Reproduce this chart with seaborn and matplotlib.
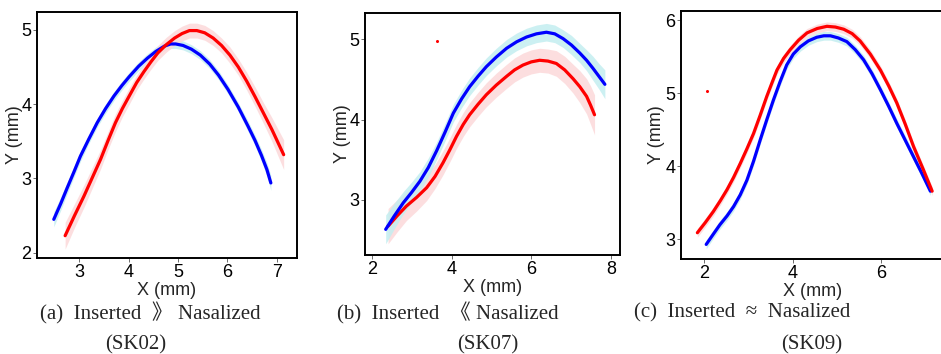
import matplotlib as mpl
import matplotlib.pyplot as plt
import pandas as pd
import seaborn as sns

# ---- data ----
# (a) SK02
a_blue_x = [2.48, 2.62, 2.75, 2.89, 3.02, 3.19, 3.36, 3.53, 3.70, 3.86, 4.01, 4.20, 4.38, 4.55, 4.72,
            4.85, 4.95, 5.10, 5.27, 5.45, 5.64, 5.82, 6.01, 6.22, 6.42, 6.56, 6.69, 6.80, 6.88]
a_blue_y = [2.45, 2.66, 2.87, 3.09, 3.30, 3.53, 3.75, 3.94, 4.11, 4.25, 4.37, 4.51, 4.62, 4.71, 4.78,
            4.81, 4.81, 4.79, 4.74, 4.66, 4.54, 4.39, 4.20, 3.96, 3.70, 3.51, 3.31, 3.12, 2.94]
a_blue_w = [0.10, 0.09, 0.08, 0.07, 0.07, 0.06, 0.06, 0.06, 0.06, 0.06, 0.06, 0.06, 0.06, 0.06, 0.06,
            0.06, 0.06, 0.06, 0.06, 0.06, 0.06, 0.06, 0.06, 0.06, 0.07, 0.07, 0.08, 0.09, 0.10]
a_red_x = [2.71, 2.90, 3.09, 3.26, 3.43, 3.58, 3.73, 3.87, 4.01, 4.16, 4.31, 4.45, 4.59, 4.76, 4.93,
           5.08, 5.23, 5.38, 5.54, 5.71, 5.88, 6.05, 6.22, 6.39, 6.56, 6.73, 6.90, 7.02, 7.14]
a_red_y = [2.23, 2.50, 2.76, 3.01, 3.26, 3.51, 3.75, 3.94, 4.11, 4.29, 4.44, 4.57, 4.69, 4.80, 4.89,
           4.95, 4.99, 4.99, 4.96, 4.89, 4.79, 4.66, 4.50, 4.31, 4.10, 3.88, 3.66, 3.49, 3.32]
a_red_w = [0.18, 0.16, 0.15, 0.14, 0.13, 0.12, 0.12, 0.11, 0.11, 0.10, 0.10, 0.10, 0.10, 0.10, 0.10,
           0.10, 0.10, 0.10, 0.10, 0.10, 0.10, 0.11, 0.11, 0.12, 0.13, 0.14, 0.16, 0.18, 0.20]

# (b) SK07
b_blue_x = [2.34, 2.56, 2.78, 2.99, 3.20, 3.41, 3.62, 3.83, 4.04, 4.25, 4.45, 4.66, 4.87, 5.12,
            5.38, 5.63, 5.88, 6.13, 6.38, 6.59, 6.80, 7.01, 7.22, 7.39, 7.55, 7.70, 7.85]
b_blue_y = [2.63, 2.80, 2.96, 3.09, 3.23, 3.40, 3.61, 3.84, 4.08, 4.26, 4.41, 4.54, 4.66, 4.78,
            4.89, 4.97, 5.03, 5.07, 5.09, 5.07, 5.01, 4.93, 4.83, 4.74, 4.64, 4.54, 4.44]
b_blue_w = [0.18, 0.16, 0.14, 0.13, 0.12, 0.12, 0.11, 0.11, 0.11, 0.11, 0.11, 0.11, 0.11, 0.11,
            0.11, 0.11, 0.11, 0.11, 0.11, 0.11, 0.11, 0.12, 0.12, 0.13, 0.15, 0.16, 0.18]
b_red_x = [2.40, 2.63, 2.86, 3.12, 3.37, 3.58, 3.78, 3.95, 4.12, 4.29, 4.45, 4.66, 4.87, 5.12,
           5.38, 5.58, 5.79, 6.00, 6.21, 6.42, 6.63, 6.84, 7.05, 7.22, 7.39, 7.49, 7.59]
b_red_y = [2.67, 2.80, 2.92, 3.03, 3.15, 3.29, 3.46, 3.62, 3.79, 3.94, 4.06, 4.19, 4.31, 4.43,
           4.54, 4.62, 4.68, 4.72, 4.74, 4.73, 4.70, 4.62, 4.51, 4.41, 4.29, 4.18, 4.06]
b_red_w = [0.22, 0.20, 0.18, 0.17, 0.16, 0.15, 0.15, 0.15, 0.15, 0.15, 0.15, 0.15, 0.15, 0.15,
           0.15, 0.15, 0.15, 0.15, 0.15, 0.15, 0.16, 0.17, 0.18, 0.20, 0.22, 0.24, 0.25]
b_dot = (3.63, 4.98)

# (c) SK09
c_blue_x = [2.04, 2.20, 2.35, 2.51, 2.66, 2.81, 2.96, 3.11, 3.26, 3.41, 3.56, 3.71, 3.86, 4.01, 4.17, 4.35,
            4.54, 4.70, 4.85, 5.03, 5.22, 5.41, 5.60, 5.79, 5.98, 6.17, 6.35, 6.54, 6.73, 6.92, 7.11]
c_blue_y = [2.93, 3.07, 3.20, 3.32, 3.45, 3.61, 3.81, 4.07, 4.36, 4.64, 4.91, 5.16, 5.39, 5.54, 5.64, 5.72,
            5.77, 5.79, 5.79, 5.76, 5.71, 5.60, 5.46, 5.27, 5.05, 4.82, 4.59, 4.36, 4.13, 3.90, 3.66]
c_red_x = [1.84, 2.02, 2.20, 2.36, 2.51, 2.66, 2.81, 2.96, 3.11, 3.26, 3.41, 3.53, 3.64, 3.79, 3.94, 4.13,
           4.32, 4.55, 4.77, 4.96, 5.15, 5.34, 5.52, 5.75, 5.98, 6.17, 6.35, 6.54, 6.73, 6.94, 7.15]
c_red_y = [3.09, 3.23, 3.38, 3.53, 3.68, 3.85, 4.04, 4.24, 4.45, 4.70, 4.96, 5.15, 5.32, 5.48, 5.60, 5.73,
           5.83, 5.89, 5.92, 5.91, 5.88, 5.82, 5.72, 5.54, 5.32, 5.10, 4.87, 4.58, 4.27, 3.97, 3.66]
c_band = 0.06
c_dot = (2.05, 5.04)

captions = ["(a)  Inserted  \u300b Nasalized", "(b)  Inserted  \u300a Nasalized", "(c)  Inserted  \u2248  Nasalized"]
subjects = ["(SK02)", "(SK07)", "(SK09)"]

RED, BLUE = "#ff0000", "#0000ff"
RED_BAND, BLUE_BAND = "#fcd9da", "#c4eef0"

sns.set_theme(style="white")
mpl.rcParams.update({
    "font.family": ["Liberation Sans Narrow", "Liberation Sans", "DejaVu Sans"],
    "axes.linewidth": 1.4,
    "axes.edgecolor": "black",
    "xtick.bottom": True,
    "ytick.left": True,
    "xtick.major.size": 3,
    "ytick.major.size": 3,
    "xtick.major.width": 0.6,
    "ytick.major.width": 0.6,
    "xtick.color": "#555555",
    "ytick.color": "#555555",
    "xtick.labelcolor": "black",
    "ytick.labelcolor": "black",
})

fig = plt.figure(figsize=(9.41, 3.54), dpi=100)
W, H = 941, 354


def add_axes(left, top, right, bottom):
    return fig.add_axes([left / W, 1 - bottom / H, (right - left) / W, (bottom - top) / H])


def draw(ax, x, y, w, line, band):
    lo = [yy - ww for yy, ww in zip(y, w)]
    hi = [yy + ww for yy, ww in zip(y, w)]
    ax.fill_between(x, lo, hi, color=band, alpha=0.85, lw=0)
    df = pd.DataFrame({"x": x, "y": y})
    sns.lineplot(data=df, x="x", y="y", sort=False, color=line, lw=2.3, ax=ax)


axes = [add_axes(37, 12, 297, 258), add_axes(365, 13, 620, 255), add_axes(681, 11, 945, 259)]

# (a)
ax = axes[0]
draw(ax, a_blue_x, a_blue_y, a_blue_w, BLUE, BLUE_BAND)
draw(ax, a_red_x, a_red_y, a_red_w, RED, RED_BAND)
ax.set_xlim(2.14, 7.41)
ax.set_ylim(1.93, 5.24)
ax.set_xticks([3, 4, 5, 6, 7])
ax.set_yticks([2, 3, 4, 5])

# (b)
ax = axes[1]
draw(ax, b_red_x, b_red_y, b_red_w, RED, RED_BAND)
draw(ax, b_blue_x, b_blue_y, b_blue_w, BLUE, BLUE_BAND)
ax.plot(*b_dot, marker="o", ms=1.2, color=RED)
ax.set_xlim(1.82, 8.23)
ax.set_ylim(2.31, 5.33)
ax.set_xticks([2, 4, 6, 8])
ax.set_yticks([3, 4, 5])

# (c)
ax = axes[2]
draw(ax, c_blue_x, c_blue_y, [c_band] * len(c_blue_x), BLUE, BLUE_BAND)
draw(ax, c_red_x, c_red_y, [c_band] * len(c_red_x), RED, RED_BAND)
ax.plot(*c_dot, marker="o", ms=1.2, color=RED)
ax.set_xlim(1.47, 7.44)
ax.set_ylim(2.73, 6.13)
ax.set_xticks([2, 4, 6])
ax.set_yticks([3, 4, 5, 6])

for ax, lp in zip(axes, [-1, -1, 0]):
    for s in ax.spines.values():
        s.set_visible(True)
        s.set_color("black")
    ax.tick_params(labelsize=13, pad=1)
    ax.set_xlabel("X (mm)", fontsize=13, labelpad=1)
    ax.set_ylabel("Y (mm)", fontsize=13, labelpad=lp)

cap_x = [40, 337, 634]
sub_x = [136, 488, 812]
serif = ["Liberation Serif", "Noto Sans CJK JP", "DejaVu Serif"]
for cx, sx, cap, sub in zip(cap_x, sub_x, captions, subjects):
    fig.text(cx / W, 1 - 313 / H, cap, ha="left", va="center", fontsize=15, family=serif)
    fig.text(sx / W, 1 - 345 / H, sub, ha="center", va="center", fontsize=15, family=serif)

fig.savefig("out.png", dpi=100, facecolor="white")
